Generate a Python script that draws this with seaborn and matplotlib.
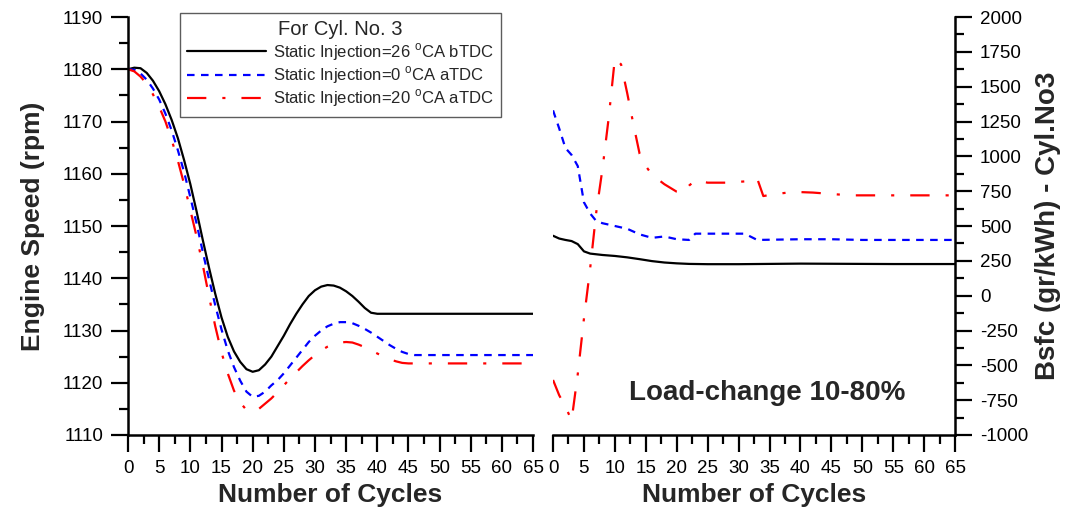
import matplotlib
matplotlib.use('Agg')
import matplotlib.pyplot as plt
import seaborn as sns
from matplotlib.ticker import MultipleLocator

sns.set_style("ticks")
plt.rcParams['font.family'] = ['Liberation Sans', 'DejaVu Sans']
plt.rcParams['mathtext.fontset'] = 'custom'
plt.rcParams['mathtext.rm'] = 'Liberation Sans'
plt.rcParams['axes.unicode_minus'] = False

# Engine speed (rpm) per cycle
cycles = [0, 1, 2, 3, 4, 5, 6, 7, 8, 9, 10, 11, 12, 13, 14, 15, 16, 17, 18, 19,
          20, 21, 22, 23, 24, 25, 26, 27, 28, 29, 30, 31, 32, 33, 34, 35, 36, 37, 38, 39,
          40, 41, 42, 43, 44, 45, 46, 47, 65]
speed_26b = [1180.0, 1180.3, 1180.2, 1179.3, 1177.8, 1175.8, 1173.3, 1170.3, 1166.8, 1162.6,
             1158.0, 1152.8, 1147.3, 1142.0, 1137.0, 1132.5, 1128.8, 1126.0, 1124.0, 1122.6,
             1122.1, 1122.4, 1123.5, 1125.0, 1127.0, 1129.0, 1131.2, 1133.2, 1135.0, 1136.6,
             1137.7, 1138.4, 1138.7, 1138.6, 1138.2, 1137.5, 1136.6, 1135.5, 1134.3, 1133.4,
             1133.2, 1133.2, 1133.2, 1133.2, 1133.2, 1133.2, 1133.2, 1133.2, 1133.2]
speed_0a = [1180.0, 1179.9, 1179.2, 1178.0, 1176.3, 1174.2, 1171.5, 1168.3, 1164.5, 1160.3,
            1155.5, 1150.5, 1145.0, 1139.8, 1134.8, 1130.2, 1126.2, 1123.0, 1120.4, 1118.3,
            1117.3, 1117.5, 1118.3, 1119.5, 1120.5, 1121.8, 1123.3, 1124.8, 1126.3, 1127.8,
            1129.0, 1130.0, 1130.8, 1131.3, 1131.6, 1131.6, 1131.4, 1130.9, 1130.3, 1129.6,
            1128.8, 1128.0, 1127.2, 1126.5, 1125.9, 1125.5, 1125.3, 1125.3, 1125.3]
speed_20a = [1180.0, 1179.6, 1178.6, 1177.2, 1175.2, 1172.8, 1170.0, 1166.5, 1162.5, 1158.0,
             1153.0, 1148.0, 1142.5, 1136.5, 1130.8, 1125.8, 1121.8, 1118.5, 1116.2, 1114.8,
             1114.5, 1115.0, 1116.0, 1117.0, 1118.2, 1119.5, 1120.8, 1122.0, 1123.2, 1124.3,
             1125.3, 1126.2, 1126.9, 1127.4, 1127.7, 1127.8, 1127.7, 1127.3, 1126.8, 1126.2,
             1125.6, 1125.0, 1124.5, 1124.1, 1123.8, 1123.7, 1123.7, 1123.7, 1123.7]

# Bsfc (gr/kWh) for cylinder 3
bsfc_cyc_26b = [0, 1, 2, 3, 4, 5, 6, 8, 10, 12, 14, 16, 18, 20, 22, 25, 30, 35, 40, 45, 50, 55, 60, 65]
bsfc_26b = [430, 410, 400, 392, 370, 318, 302, 292, 285, 275, 262, 248, 238, 232, 228, 226,
            226, 228, 230, 229, 228, 227, 227, 227]
bsfc_cyc_0a = [0, 1, 2, 3, 4, 5, 6, 7, 8, 10, 12, 14, 16, 17, 18, 20, 22, 23, 25, 28, 31, 33,
               40, 45, 50, 55, 60, 65]
bsfc_0a = [1330, 1200, 1060, 1010, 930, 670, 590, 535, 520, 500, 480, 440, 415, 420, 425, 405,
           400, 445, 445, 445, 445, 400, 405, 405, 400, 400, 400, 400]
bsfc_cyc_20a = [0, 1, 2, 3, 4, 5, 6, 7, 8, 9, 10, 11, 12, 13, 14, 15, 16, 18, 20, 21, 22, 23,
                25, 28, 31, 33, 34, 36, 39, 42, 45, 48, 55, 65]
bsfc_20a = [-605, -715, -795, -895, -563, -164, 195, 603, 912, 1276, 1704, 1660, 1452, 1229,
            1018, 930, 868, 800, 746, 735, 790, 828, 811, 811, 820, 842, 715, 730, 745, 740,
            730, 720, 720, 720]

labels = [r'Static Injection=26 $^{\rm o}$CA bTDC',
          r'Static Injection=0 $^{\rm o}$CA aTDC',
          r'Static Injection=20 $^{\rm o}$CA aTDC']
colors = ['black', '#0000ff', '#ff0000']
styles = ['-', (0, (3.4, 2.9)), (0, (8.7, 7.2, 1.4, 7.2))]

fig = plt.figure(figsize=(10.67, 5.14), dpi=100)
ax1 = fig.add_axes([0.12, 0.1537, 0.3796, 0.8132])
ax2 = fig.add_axes([0.5183, 0.1537, 0.3768, 0.8132])

for y, lab, c, ls in zip([speed_26b, speed_0a, speed_20a], labels, colors, styles):
    sns.lineplot(x=cycles, y=y, ax=ax1, color=c, linestyle=ls, linewidth=1.6, label=lab)

for xs, y, c, ls in zip([bsfc_cyc_26b, bsfc_cyc_0a, bsfc_cyc_20a],
                        [bsfc_26b, bsfc_0a, bsfc_20a], colors, styles):
    sns.lineplot(x=xs, y=y, ax=ax2, color=c, linestyle=ls, linewidth=1.6)

for ax in (ax1, ax2):
    ax.set_xlim(0, 65)
    ax.xaxis.set_major_locator(MultipleLocator(5))
    ax.xaxis.set_minor_locator(MultipleLocator(2.5))
    ax.tick_params(axis='both', which='major', length=12, width=1.6, pad=6,
                   direction='out', color='black', labelsize=13.5, labelcolor='black')
    ax.tick_params(axis='both', which='minor', length=6.5, width=1.6,
                   direction='out', color='black')
    ax.tick_params(axis='x', which='both', bottom=True)
    ax.set_xlabel('Number of Cycles', fontsize=19, fontweight='bold', labelpad=4)
    ax.spines['top'].set_visible(False)
    for s in ax.spines.values():
        s.set_linewidth(1.8)
        s.set_color('black')

ax1.spines['right'].set_visible(False)
ax1.set_ylim(1110, 1190)
ax1.yaxis.set_major_locator(MultipleLocator(10))
ax1.yaxis.set_minor_locator(MultipleLocator(5))
ax1.tick_params(axis='y', which='both', left=True, right=False)
ax1.set_ylabel('Engine Speed (rpm)', fontsize=19, fontweight='bold')
ax1.yaxis.set_label_coords(-0.205, 0.5)

ax2.spines['left'].set_visible(False)
ax2.yaxis.tick_right()
ax2.yaxis.set_label_position('right')
ax2.set_ylim(-1000, 2000)
ax2.yaxis.set_major_locator(MultipleLocator(250))
ax2.yaxis.set_minor_locator(MultipleLocator(125))
ax2.tick_params(axis='y', which='both', left=False, right=True)
ax2.set_ylabel('Bsfc (gr/kWh) - Cyl.No3', fontsize=20, fontweight='bold')
ax2.yaxis.set_label_coords(1.20, 0.5)

ax2.text(0.532, 0.10, 'Load-change 10-80%', transform=ax2.transAxes,
         ha='center', va='center', fontsize=20, fontweight='bold')

leg = ax1.legend(loc='upper left', bbox_to_anchor=(0.128, 1.01), title='For Cyl. No. 3',
                 fontsize=12, title_fontsize=14.5, frameon=True, fancybox=False,
                 handlelength=4.7, handletextpad=0.45, labelspacing=0.1,
                 borderpad=0.45, borderaxespad=0)
leg.get_frame().set_edgecolor('#333333')
leg.get_frame().set_linewidth(1.0)

fig.savefig('out.png', dpi=100)
